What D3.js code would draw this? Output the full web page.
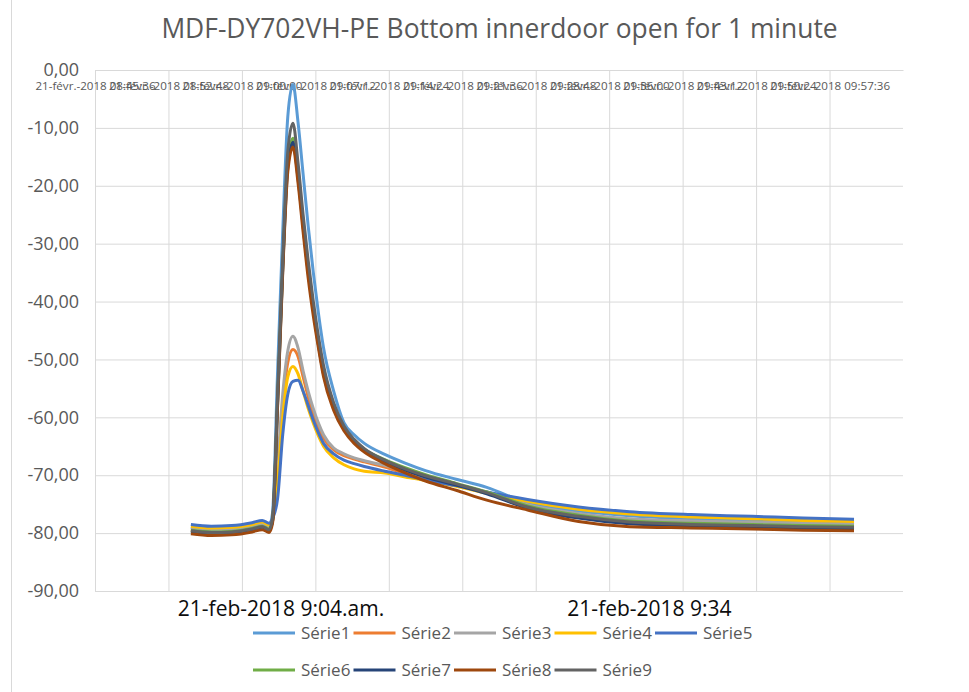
<!DOCTYPE html>
<html>
<head>
<meta charset="utf-8">
<script src="https://cdn.jsdelivr.net/npm/d3@7"></script>
<style>
  body { margin: 0; background: #fff; }
  text { font-family: "Open Sans", sans-serif; }
</style>
</head>
<body>
<div id="chart"></div>
<script>
// sample times (one row per reading)
const times = [
  "08:55:00", "08:57:00", "08:59:00", "09:01:00", "09:02:00", "09:02:40", "09:03:00", "09:03:30",
  "09:04:00", "09:04:30", "09:05:00", "09:05:30", "09:06:00", "09:06:30", "09:07:00", "09:07:30",
  "09:08:00", "09:09:00", "09:10:00", "09:11:00", "09:12:00", "09:14:00", "09:16:00", "09:18:00",
  "09:21:00", "09:24:00", "09:28:00", "09:33:00", "09:38:00", "09:44:00", "09:50:00", "09:55:00",
  "10:00:00"
]

const serie1 = [-79.0, -79.3, -79.2, -78.7, -78.3, -78.8, -76.5, -52, -28, -8, -2.5, -9, -18, -27, -35, -42,
  -48, -55.5, -60.9, -63.0, -64.5, -66.4, -67.9, -69.2, -70.7, -72.1, -74.8, -76.2, -77.0, -77.5, -77.8, -78.0, -78.2]
const serie2 = [-79.4, -79.7, -79.6, -79.1, -78.7, -79.2, -78, -69.5, -58, -50.5, -48.3, -49.5, -53, -56.5, -59.5, -61.8,
  -63.6, -65.6, -66.6, -67.2, -67.7, -68.6, -69.7, -70.6, -71.8, -73.1, -75.6, -77.3, -78.3, -78.7, -78.9, -79.1, -79.2]
const serie3 = [-79.1, -79.4, -79.3, -78.8, -78.4, -78.9, -77.5, -68, -56, -48.5, -46, -48, -52, -55.5, -58.5, -61,
  -63, -65.3, -66.3, -67.0, -67.5, -68.3, -69.3, -70.3, -71.6, -72.9, -75.1, -76.6, -77.5, -77.9, -78.1, -78.3, -78.5]
const serie4 = [-78.8, -79.1, -79.0, -78.5, -78.1, -78.6, -77.5, -71, -60, -53, -51.2, -52.5, -55.5, -58.5, -61, -63.2,
  -65, -67, -68.2, -68.9, -69.3, -69.6, -70.3, -70.9, -71.9, -73.1, -74.5, -75.9, -76.7, -77.2, -77.5, -77.8, -78.0]
const serie5 = [-78.5, -78.8, -78.7, -78.2, -77.8, -78.3, -77.5, -74, -63, -56, -53.8, -53.6, -55.5, -58, -60.5, -62.7,
  -64.5, -66.3, -67.4, -68.0, -68.5, -69.3, -70.0, -70.8, -71.8, -72.9, -74.2, -75.5, -76.3, -76.8, -77.1, -77.4, -77.6]
const serie6 = [-79.5, -79.8, -79.7, -79.2, -78.8, -79.3, -77.8, -57, -34, -16, -11.8, -18, -26.5, -34.5, -41, -47,
  -52, -58, -61.8, -64.0, -65.5, -67.3, -68.7, -69.9, -71.4, -72.9, -75.3, -76.9, -77.9, -78.3, -78.5, -78.7, -78.8]
const serie7 = [-79.8, -80.0, -79.9, -79.4, -79.0, -79.5, -78, -57.5, -34.5, -16.8, -12.5, -18.7, -27, -35, -41.5, -47.5,
  -52.5, -58.3, -62, -64.2, -65.7, -67.6, -69.1, -70.3, -71.7, -73.2, -75.7, -77.4, -78.4, -78.8, -79.0, -79.2, -79.3]
const serie8 = [-80.1, -80.4, -80.3, -79.8, -79.4, -79.9, -78.3, -58, -35, -17.5, -13.3, -19.5, -28, -36, -42.5, -48,
  -53, -58.8, -62.3, -64.5, -66.0, -68.0, -69.6, -71.0, -72.6, -74.3, -76.0, -78.0, -78.9, -79.1, -79.3, -79.5, -79.6]
const serie9 = [-79.6, -79.9, -79.8, -79.3, -78.9, -79.4, -77.5, -56, -33, -14, -9.2, -16, -25, -33, -40, -46,
  -51, -57.5, -61.5, -63.8, -65.4, -67.4, -68.9, -70.1, -71.5, -73.0, -75.5, -77.1, -78.1, -78.5, -78.7, -78.9, -79.0]

const seriesNames = ["Série1", "Série2", "Série3", "Série4", "Série5", "Série6", "Série7", "Série8", "Série9"]
const seriesValues = [serie1, serie2, serie3, serie4, serie5, serie6, serie7, serie8, serie9]
const colors = ["#5b9bd5", "#ed7d31", "#a5a5a5", "#ffc000", "#4472c4", "#70ad47", "#264478", "#9e480e", "#636363"]

const xTickLabels = [
  "21-févr.-2018 08:45:36", "21-févr.-2018 08:52:48", "21-févr.-2018 09:00:00", "21-févr.-2018 09:07:12",
  "21-févr.-2018 09:14:24", "21-févr.-2018 09:21:36", "21-févr.-2018 09:28:48", "21-févr.-2018 09:36:00",
  "21-févr.-2018 09:43:12", "21-févr.-2018 09:50:24", "21-févr.-2018 09:57:36"
]
const xAxisEnd = "10:04:48"
const yTicks = [0, -10, -20, -30, -40, -50, -60, -70, -80, -90]
const dateLabels = ["21-feb-2018 9:04.am.", "21-feb-2018 9:34"]
const title = "MDF-DY702VH-PE Bottom innerdoor open for 1 minute"

const W = 969, H = 692
const plot = {left: 95, right: 903, top: 70, bottom: 591}
const grid = "#d9d9d9", textGray = "#595959"

const parseTime = d3.timeParse("%H:%M:%S")
const tickDates = xTickLabels.map(l => parseTime(l.slice(-8)))
const dates = times.map(parseTime)

const svg = d3.select("#chart")
  .append("svg")
    .attr("width", W)
    .attr("height", H)

// chart frame edge on the left
svg.append("line")
  .attr("x1", 11.5).attr("x2", 11.5)
  .attr("y1", 0).attr("y2", H)
  .attr("stroke", grid)

svg.append("text")
  .attr("x", (163 + 836) / 2)
  .attr("y", 38)
  .attr("text-anchor", "middle")
  .attr("font-size", 26.4)
  .attr("fill", textGray)
  .text(title)

const x = d3.scaleTime()
  .domain([tickDates[0], parseTime(xAxisEnd)])
  .range([plot.left, plot.right])

const y = d3.scaleLinear()
  .domain([-90, 0])
  .range([plot.bottom, plot.top])

const fr = d3.formatLocale({decimal: ",", thousands: " ", grouping: [3], currency: ["", ""], minus: "-"})
const yFmt = fr.format(".2f")

// horizontal gridlines + y labels
const gy = svg.append("g")
  .attr("transform", "translate(" + plot.left + ",0)")
  .call(d3.axisLeft(y).tickValues(yTicks).tickFormat(yFmt)
    .tickSize(-(plot.right - plot.left)).tickPadding(16))
gy.select(".domain").remove()
gy.selectAll(".tick line").attr("stroke", grid)
gy.selectAll(".tick text")
  .attr("fill", textGray)
  .attr("font-size", 18)
  .attr("font-family", "Open Sans, sans-serif")

// vertical gridlines
const gv = svg.append("g")
  .attr("transform", "translate(0," + plot.top + ")")
  .call(d3.axisBottom(x).tickValues(tickDates).tickFormat("")
    .tickSize(plot.bottom - plot.top))
gv.select(".domain").remove()
gv.selectAll(".tick line").attr("stroke", grid)

// date axis sits on the 0,00 line, labels hang below it
const gx = svg.append("g")
  .attr("transform", "translate(0," + plot.top + ")")
  .call(d3.axisBottom(x).tickValues(tickDates)
    .tickFormat((d, i) => xTickLabels[i])
    .tickSize(0).tickSizeOuter(0).tickPadding(12))
gx.select(".domain").attr("stroke", grid)
gx.selectAll(".tick text")
  .attr("fill", textGray)
  .attr("font-size", 11.6)
  .attr("font-family", "Open Sans, sans-serif")

const line = d3.line()
  .x((d, i) => x(dates[i]))
  .y(d => y(d))
  .curve(d3.curveMonotoneX)

svg.append("g")
  .selectAll("path")
  .data(seriesValues)
  .enter()
  .append("path")
    .attr("d", d => line(d))
    .attr("fill", "none")
    .attr("stroke", (d, i) => colors[i])
    .attr("stroke-width", 3)
    .attr("stroke-linejoin", "round")

// two big date captions under the plot
svg.append("g")
  .selectAll("text")
  .data(dateLabels)
  .enter()
  .append("text")
    .attr("x", (d, i) => i == 0 ? 281 : 649.5)
    .attr("y", 616)
    .attr("text-anchor", "middle")
    .attr("font-size", 21)
    .attr("fill", "#0d0d0d")
    .text(d => d)

// legend, 5 per row
const legend = svg.append("g")
  .selectAll("g")
  .data(seriesNames)
  .enter()
  .append("g")
    .attr("transform", (d, i) => "translate(" + (253 + 100.5 * (i % 5)) + "," + (633 + 37 * Math.floor(i / 5)) + ")")

legend.append("line")
  .attr("x1", 0).attr("x2", 42)
  .attr("stroke", (d, i) => colors[i])
  .attr("stroke-width", 3)

legend.append("text")
  .attr("x", 48)
  .attr("dy", "0.35em")
  .attr("font-size", 17)
  .attr("fill", textGray)
  .text(d => d)
</script>
</body>
</html>
